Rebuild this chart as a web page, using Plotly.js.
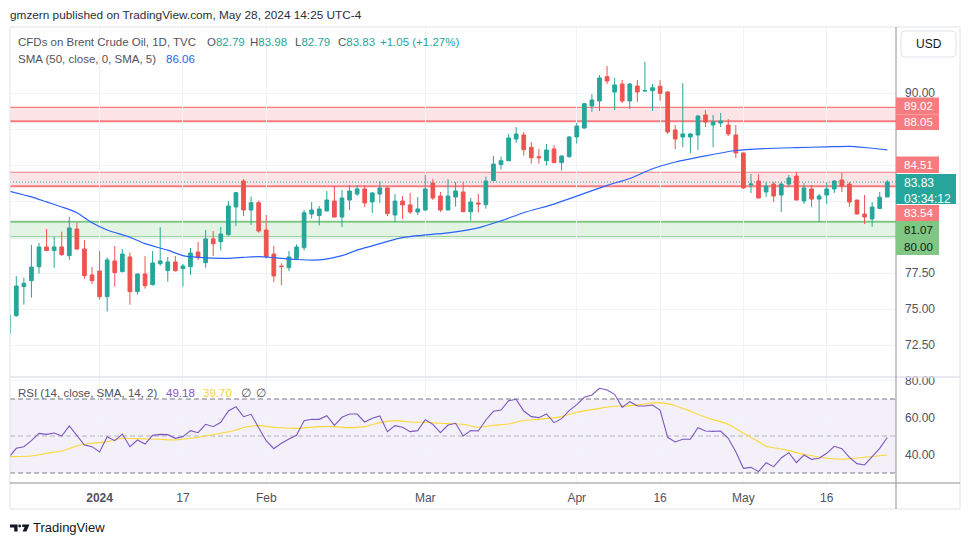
<!DOCTYPE html>
<html><head><meta charset="utf-8">
<script src="https://cdn.plot.ly/plotly-3.0.1.min.js"></script>
<style>html,body{margin:0;padding:0;background:#fff;}#chart{width:970px;height:545px;}</style>
</head><body><div id="chart"></div>
<script>
// ---------------- DATA ----------------
const dates = [
'2023-12-13','2023-12-14','2023-12-15','2023-12-18','2023-12-19','2023-12-20','2023-12-21','2023-12-22','2023-12-26','2023-12-27',
'2023-12-28','2023-12-29','2024-01-02','2024-01-03','2024-01-04','2024-01-05','2024-01-08','2024-01-09','2024-01-10','2024-01-11',
'2024-01-12','2024-01-15','2024-01-16','2024-01-17','2024-01-18','2024-01-19','2024-01-22','2024-01-23','2024-01-24','2024-01-25',
'2024-01-26','2024-01-29','2024-01-30','2024-01-31','2024-02-01','2024-02-02','2024-02-05','2024-02-06','2024-02-07','2024-02-08',
'2024-02-09','2024-02-12','2024-02-13','2024-02-14','2024-02-15','2024-02-16','2024-02-19','2024-02-20','2024-02-21','2024-02-22',
'2024-02-23','2024-02-26','2024-02-27','2024-02-28','2024-02-29','2024-03-01','2024-03-04','2024-03-05','2024-03-06','2024-03-07',
'2024-03-08','2024-03-11','2024-03-12','2024-03-13','2024-03-14','2024-03-15','2024-03-18','2024-03-19','2024-03-20','2024-03-21',
'2024-03-22','2024-03-25','2024-03-26','2024-03-27','2024-03-28','2024-04-01','2024-04-02','2024-04-03','2024-04-04','2024-04-05',
'2024-04-08','2024-04-09','2024-04-10','2024-04-11','2024-04-12','2024-04-15','2024-04-16','2024-04-17','2024-04-18','2024-04-19',
'2024-04-22','2024-04-23','2024-04-24','2024-04-25','2024-04-26','2024-04-29','2024-04-30','2024-05-01','2024-05-02','2024-05-03',
'2024-05-06','2024-05-07','2024-05-08','2024-05-09','2024-05-10','2024-05-13','2024-05-14','2024-05-15','2024-05-16','2024-05-17',
'2024-05-20','2024-05-21','2024-05-22','2024-05-23','2024-05-24','2024-05-27','2024-05-28'];

const opens = [73.33,74.55,76.57,76.98,77.95,79.32,79.07,79.32,78.72,80.57,
79.18,77.38,77.65,75.87,78.35,77.61,78.63,76.22,77.44,76.70,
78.16,77.68,78.28,77.82,77.95,78.97,78.23,79.88,79.69,80.18,
82.10,83.90,81.89,82.40,80.50,78.83,78.00,77.88,78.53,79.27,
81.61,81.50,81.82,82.51,81.40,82.58,83.00,83.35,82.45,83.00,
83.42,81.54,82.51,82.24,81.75,81.89,83.76,82.86,81.89,82.79,
83.14,81.77,82.38,82.26,83.93,85.04,85.31,86.82,87.10,86.24,
85.59,85.31,86.13,85.18,85.59,86.96,87.58,89.11,89.46,91.15,
90.08,90.64,89.46,90.50,90.15,90.17,90.48,90.08,87.45,86.96,
86.96,87.10,88.49,87.79,87.93,87.79,87.10,85.85,83.63,83.90,
83.14,83.69,82.93,83.69,84.25,82.51,83.35,82.65,82.93,83.35,
83.97,83.69,82.58,81.61,81.27,82.00,82.79];
const highs = [74.70,77.30,77.19,79.46,79.60,80.57,80.04,80.38,81.43,81.01,
79.81,77.93,79.04,78.60,79.39,79.18,78.93,77.50,78.69,79.04,
80.69,78.63,78.69,78.14,79.25,79.67,80.50,80.43,80.71,82.52,
83.14,84.04,82.82,82.54,81.54,79.39,78.19,79.04,79.50,81.89,
82.44,82.17,83.21,83.55,83.28,83.62,83.62,83.62,83.14,83.90,
83.45,83.00,82.86,83.07,82.79,84.32,84.04,83.14,84.04,83.83,
83.83,82.72,83.00,84.20,85.64,85.59,87.17,87.65,87.31,86.61,
86.12,86.47,86.40,85.66,87.03,87.93,89.32,89.94,91.26,91.89,
91.06,90.92,90.71,90.92,92.19,90.64,90.92,90.15,87.79,90.71,
87.24,88.49,88.83,88.49,88.62,88.21,87.79,85.88,84.39,84.39,
83.83,83.83,83.83,84.32,84.53,83.76,83.63,83.00,83.83,83.97,
84.46,83.83,82.60,82.93,82.44,83.14,83.98];
const lows = [73.10,74.48,75.32,75.80,77.47,79.05,77.88,78.70,78.42,79.10,
77.10,76.75,75.66,74.83,76.57,77.55,75.32,76.01,76.43,76.65,
78.02,76.91,77.60,76.57,77.38,78.42,77.88,78.69,79.07,80.10,
80.78,81.47,80.85,80.31,78.53,76.89,76.68,77.65,78.46,79.07,
81.29,80.82,81.80,81.38,80.71,81.89,82.86,82.10,81.68,82.38,
81.47,81.05,81.26,81.61,81.54,81.82,82.58,81.75,81.85,82.12,
81.75,81.15,81.71,81.98,83.90,84.69,85.28,86.54,85.66,85.10,
85.10,84.97,85.15,84.62,85.52,86.50,87.55,88.70,88.76,90.64,
88.83,89.32,88.90,89.39,90.12,88.78,89.48,87.17,86.12,86.26,
85.85,86.06,87.65,86.26,87.65,87.03,85.50,83.35,83.07,82.70,
82.79,82.44,81.75,83.49,82.55,82.31,82.10,81.06,82.31,83.07,
83.14,82.10,81.58,80.92,80.73,81.98,82.79];
const closes = [74.60,76.61,76.80,77.93,79.32,79.07,79.32,78.79,80.64,79.18,
77.33,76.98,75.87,78.42,77.54,78.83,76.22,77.44,76.63,78.21,
78.35,78.28,77.68,78.00,78.90,78.58,79.88,79.55,80.22,82.17,
83.09,81.89,82.40,80.43,78.65,77.31,77.96,78.63,79.32,81.70,
81.89,81.96,82.58,81.40,82.72,83.21,83.35,82.38,83.07,83.42,
81.64,82.51,82.24,81.75,81.96,83.35,82.72,81.89,82.86,83.21,
81.77,82.44,82.31,83.90,85.08,85.31,86.89,87.17,86.08,85.52,
85.52,86.06,85.18,85.64,86.96,87.72,89.27,89.53,91.06,90.85,
90.57,89.46,90.64,90.08,90.18,90.38,89.99,87.31,86.82,87.17,
87.17,88.42,88.00,88.00,88.07,87.17,85.85,83.42,83.69,82.72,
83.55,82.86,83.69,84.11,82.58,83.42,82.65,82.86,83.35,83.90,
83.55,82.44,81.61,81.40,82.10,82.78,83.83];

// SMA(50) at these bar indices
const smaAt   = [0,3,5,7,9,11,13,16,18,21,23,25,29,31,33,35,38,41,44,46,48,50,52,54,58,62,65,68,72,75,79,82,85,88,92,96,100,104,108,111,113,116];
const smaVals = [83.21,82.80,82.45,82.10,81.70,81.00,80.50,80.00,79.55,79.10,78.72,78.60,78.53,78.60,78.65,78.58,78.45,78.42,78.72,79.10,79.40,79.71,79.97,80.11,80.30,80.65,81.14,81.70,82.30,82.85,83.60,84.08,84.75,85.22,85.65,86.02,86.16,86.22,86.27,86.31,86.23,86.06];

// RSI(14)
const rsiVals = [38.47,43.33,44.23,47.48,51.44,50.90,51.62,50.00,55.41,50.00,
45.14,44.23,41.35,49.64,47.48,51.08,44.23,47.84,45.68,50.36,
50.90,50.72,48.74,49.64,52.88,51.80,56.31,55.04,57.39,63.51,
65.86,60.45,61.71,54.50,47.48,43.15,46.04,48.38,50.36,58.29,
59.01,59.01,61.00,55.77,60.09,61.89,61.89,57.57,59.55,60.81,
52.34,55.59,54.69,52.34,52.88,58.83,56.31,51.80,55.95,56.85,
50.00,52.88,52.70,58.65,63.33,64.05,69.10,69.82,63.51,60.45,
59.91,61.89,57.21,59.37,63.69,66.94,70.90,72.16,75.77,74.87,
72.52,65.50,68.56,66.22,66.22,66.76,64.05,49.28,46.76,48.20,
48.20,54.50,52.70,52.52,52.70,48.74,41.53,32.52,33.06,30.72,
35.59,33.43,38.11,40.99,35.59,39.73,37.39,37.93,40.63,44.41,
43.15,38.47,35.05,34.33,39.01,43.33,49.18];
// RSI-based SMA(14)
const rsiSmaAt   = [0,3,5,7,9,11,13,15,17,20,22,24,26,28,30,31,33,35,38,41,43,45,47,49,51,53,55,57,60,62,64,66,68,70,73,75,78,80,82,84,86,88,90,92,95,97,99,100,102,103,105,108,110,111,113,116];
const rsiSmaVals = [38.83,39.19,40.63,41.89,44.59,46.04,46.94,48.74,48.56,48.20,47.84,48.74,50.00,51.44,53.24,54.60,55.59,54.69,54.14,55.05,55.05,54.50,55.05,57.21,58.29,57.57,57.39,56.85,56.31,54.69,55.77,56.50,58.40,59.01,60.45,62.79,64.95,66.04,66.40,67.30,68.02,66.40,63.40,60.09,56.31,51.44,46.94,44.50,42.97,42.07,40.09,37.93,37.39,37.70,38.47,39.70];

// drawn levels
const resistBands = [[88.05, 89.02], [83.54, 84.51]];
const supportBand = [80.00, 81.07];

// axis ticks
const tickDates  = ['2024-01-02','2024-01-17','2024-02-01','2024-03-01','2024-04-01','2024-04-16','2024-05-01','2024-05-16'];
const tickLabels = ['<b>2024</b>','17','Feb','Mar','Apr','16','May','16'];
const priceTicks = [72.5,75,77.5,80,82.5,85,87.5,90];
const hiddenPriceTicks = [80,82.5,85,87.5];   // covered by the level labels in the chart
const rsiTicks   = [40,60,80];

// ---------------- STYLE / LAYOUT ----------------
const UP='#26a69a', DN='#ef5350', RED='#f77c80', GRN='#81c784', TXT='#50535e';
const FONT='"Liberation Sans", Arial, sans-serif';
const FS=11.5;
const PL=10, PR=896, PT=27, PB=483;
const px = x => (x-PL)/(PR-PL);
const py = y => (PB-y)/(PB-PT);
const n = closes.length-1;

const traces = [
  {type:'candlestick', x:dates, open:opens, high:highs, low:lows, close:closes,
   xaxis:'x', yaxis:'y', whiskerwidth:0, hoverinfo:'skip',
   increasing:{line:{color:UP,width:1}, fillcolor:UP},
   decreasing:{line:{color:DN,width:1}, fillcolor:DN}},
  {type:'scatter', mode:'lines', x:smaAt.map(i=>dates[i]), y:smaVals, xaxis:'x', yaxis:'y',
   line:{color:'#2962ff', width:1.2, shape:'spline', smoothing:0.6}, hoverinfo:'skip'},
  {type:'scatter', mode:'lines', x:rsiSmaAt.map(i=>dates[i]), y:rsiSmaVals, xaxis:'x', yaxis:'y2',
   line:{color:'#fdd835', width:1.1, shape:'spline', smoothing:0.6}, hoverinfo:'skip'},
  {type:'scatter', mode:'lines', x:dates, y:rsiVals, xaxis:'x', yaxis:'y2',
   line:{color:'#7e57c2', width:1.1}, hoverinfo:'skip'}
];

const shapes = [];
resistBands.forEach(b=>{
  shapes.push({type:'rect', xref:'paper', yref:'y', x0:0, x1:1, y0:b[0], y1:b[1], fillcolor:'rgba(242,54,69,0.13)', line:{width:0}, layer:'below'});
  shapes.push({type:'line', xref:'paper', yref:'y', x0:0, x1:1, y0:b[1], y1:b[1], line:{color:RED, width:1.2}, layer:'below'});
  shapes.push({type:'line', xref:'paper', yref:'y', x0:0, x1:1, y0:b[0], y1:b[0], line:{color:RED, width:2}, layer:'below'});
});
shapes.push({type:'rect', xref:'paper', yref:'y', x0:0, x1:1, y0:supportBand[0], y1:supportBand[1], fillcolor:'rgba(129,199,132,0.22)', line:{width:0}, layer:'below'});
supportBand.forEach(v=>shapes.push({type:'line', xref:'paper', yref:'y', x0:0, x1:1, y0:v, y1:v, line:{color:GRN, width:2}, layer:'below'}));
shapes.push({type:'line', xref:'paper', yref:'y', x0:0, x1:1, y0:closes[n], y1:closes[n], line:{color:UP, width:1, dash:'1px,2px'}, layer:'below'});
shapes.push({type:'rect', xref:'paper', yref:'y2', x0:0, x1:1, y0:30, y1:70, fillcolor:'rgba(126,87,194,0.09)', line:{width:0}, layer:'below'});
[[70,'#787b86'],[50,'#b2b5be'],[30,'#787b86']].forEach(l=>shapes.push({type:'line', xref:'paper', yref:'y2', x0:0, x1:1, y0:l[0], y1:l[0], line:{color:l[1], width:1, dash:'5px,3px'}, layer:'below'}));
// frame
shapes.push({type:'rect', xref:'paper', yref:'paper', x0:px(10), x1:px(960), y0:py(509), y1:py(27), line:{color:'#e0e3eb', width:1}, layer:'above'});
shapes.push({type:'line', xref:'paper', yref:'paper', x0:px(10), x1:px(960), y0:py(377), y1:py(377), line:{color:'#e0e3eb', width:1.5}, layer:'above'});
shapes.push({type:'line', xref:'paper', yref:'paper', x0:px(10), x1:px(960), y0:py(483), y1:py(483), line:{color:'#8c8f98', width:1}, layer:'above'});
shapes.push({type:'line', xref:'paper', yref:'paper', x0:px(896), x1:px(896), y0:py(509), y1:py(27), line:{color:'#8c8f98', width:1}, layer:'above'});
function rrect(x0,y0,x1,y1,r){
  const X=px, Y=py;
  return `M${X(x0+r)},${Y(y0)} L${X(x1-r)},${Y(y0)} Q${X(x1)},${Y(y0)} ${X(x1)},${Y(y0+r)} L${X(x1)},${Y(y1-r)} Q${X(x1)},${Y(y1)} ${X(x1-r)},${Y(y1)} L${X(x0+r)},${Y(y1)} Q${X(x0)},${Y(y1)} ${X(x0)},${Y(y1-r)} L${X(x0)},${Y(y0+r)} Q${X(x0)},${Y(y0)} ${X(x0+r)},${Y(y0)} Z`;
}
shapes.push({type:'path', xref:'paper', yref:'paper', path:rrect(901,31,956,57,4), line:{color:'#e0e3eb', width:1}, fillcolor:'#ffffff', layer:'above'});
const boxes = [[97.5,114.5,RED,939],[114.5,130,RED,939],[156.5,173,RED,939],[174,204,UP,956],[205,221,RED,939],[221,238,GRN,939],[238,255,GRN,939]];
boxes.forEach(b=>shapes.push({type:'rect', xref:'paper', yref:'paper', x0:px(896), x1:px(b[3]), y0:py(b[1]), y1:py(b[0]), fillcolor:b[2], line:{width:0}, layer:'above'}));
const logo = [
 `M${px(10)},${py(524.5)} L${px(17.6)},${py(524.5)} L${px(17.6)},${py(531.5)} L${px(14.2)},${py(531.5)} L${px(14.2)},${py(527.6)} L${px(10)},${py(527.6)} Z`,
 `M${px(22.2)},${py(524.5)} L${px(29.5)},${py(524.5)} L${px(26.4)},${py(531.5)} L${px(22.6)},${py(531.5)} L${px(24.6)},${py(527)} L${px(22.2)},${py(527)} Z`
];
logo.forEach(p=>shapes.push({type:'path', xref:'paper', yref:'paper', path:p, fillcolor:'#131722', line:{width:0}, layer:'above'}));
shapes.push({type:'circle', xref:'paper', yref:'paper', x0:px(18.3), x1:px(21.1), y0:py(527.4), y1:py(524.6), fillcolor:'#131722', line:{width:0}, layer:'above'});

const ann = [];
function T(text,x,y,opts){ ann.push(Object.assign({text:text, xref:'paper', yref:'paper', x:px(x), y:py(y), xanchor:'left', yanchor:'middle', showarrow:false, borderpad:0, borderwidth:0, align:'left', font:{family:FONT, size:FS, color:TXT}}, opts||{})); }
const last = n;
T('gmzern published on TradingView.com, May 28, 2024 14:25 UTC-4', 10, 15, {font:{family:FONT,size:11.8,color:'#2a2e39'}});
T('CFDs on Brent Crude Oil, 1D, TVC', 18, 42);
const chg = closes[last]-closes[last-1];
T(`O<span style="color:${UP}">${opens[last].toFixed(2)}</span>`, 206.5, 42);
T(`H<span style="color:${UP}">${highs[last].toFixed(2)}</span>`, 250, 42);
T(`L<span style="color:${UP}">${lows[last].toFixed(2)}</span>`, 295, 42);
T(`C<span style="color:${UP}">${closes[last].toFixed(2)}</span>`, 338, 42);
T(`<span style="color:${UP}">+${chg.toFixed(2)} (+${(chg/closes[last-1]*100).toFixed(2)}%)</span>`, 380, 42);
T('SMA (50, close, 0, SMA, 5)', 18, 59);
T(smaVals[smaVals.length-1].toFixed(2), 165.5, 59, {font:{family:FONT,size:FS,color:'#2962ff'}});
T('RSI (14, close, SMA, 14, 2)', 18, 393);
T(rsiVals[rsiVals.length-1].toFixed(2), 165.5, 393, {font:{family:FONT,size:FS,color:'#7e57c2'}});
T(rsiSmaVals[rsiSmaVals.length-1].toFixed(2), 202.5, 393, {font:{family:FONT,size:FS,color:'#f9d33a'}});
T('∅', 240.5, 393); T('∅', 255.5, 393);
T('USD', 928.5, 44, {xanchor:'center', font:{family:FONT,size:12,color:'#131722'}});
T('TradingView', 33, 527.5, {font:{family:FONT,size:13,color:'#131722'}});
const labelTexts = [[resistBands[0][1],106.5,'#fff'],[resistBands[0][0],122.3,'#fff'],[resistBands[1][1],165,'#fff'],[resistBands[1][0],213.3,'#fff'],[supportBand[1],230,'#131722'],[supportBand[0],247,'#131722']];
labelTexts.forEach(l=>T(l[0].toFixed(2), 904, l[1], {font:{family:FONT,size:11.5,color:l[2]}}));
T(closes[last].toFixed(2)+'<br>03:34:12', 904, 190.5, {font:{family:FONT,size:12,color:'#fff'}});

const layout = {
  width:970, height:545, margin:{l:PL, r:970-PR, t:PT, b:545-PB, pad:0},
  paper_bgcolor:'#ffffff', plot_bgcolor:'#ffffff', showlegend:false, dragmode:false,
  font:{family:FONT, size:12, color:TXT},
  xaxis:{type:'category', anchor:'y2', range:[0.17,117.15], tickvals:tickDates, ticktext:tickLabels,
         showgrid:true, gridcolor:'#f0f3fa', gridwidth:1, zeroline:false, showline:false, ticks:'',
         tickfont:{family:FONT,size:12,color:TXT}, rangeslider:{visible:false}, fixedrange:true, ticklabelstandoff:6},
  yaxis:{domain:[py(377),1], range:[70.292,94.597], side:'right', anchor:'x', tickvals:priceTicks,
         ticktext:priceTicks.map(v=>hiddenPriceTicks.includes(v)?'':v.toFixed(2)), showgrid:true, gridcolor:'#f0f3fa', zeroline:false,
         showline:false, ticks:'', tickfont:{family:FONT,size:12,color:TXT}, ticklabelstandoff:8, fixedrange:true},
  yaxis2:{domain:[0,py(377)], range:[24.59,81.89], side:'right', anchor:'x', tickvals:rsiTicks,
         ticktext:rsiTicks.map(v=>v.toFixed(2)), showgrid:true, gridcolor:'#f0f3fa', zeroline:false,
         showline:false, ticks:'', tickfont:{family:FONT,size:12,color:TXT}, ticklabelstandoff:8, fixedrange:true},
  shapes:shapes, annotations:ann
};
Plotly.newPlot('chart', traces, layout, {staticPlot:true, displayModeBar:false});
</script></body></html>
